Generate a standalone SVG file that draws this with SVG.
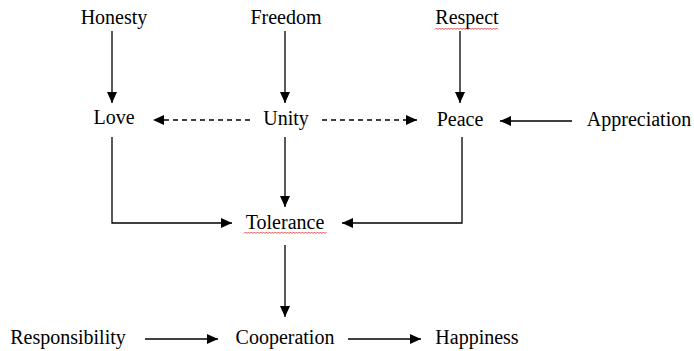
<svg xmlns="http://www.w3.org/2000/svg" width="694" height="351" viewBox="0 0 694 351">
<defs>
<marker id="ah" markerUnits="userSpaceOnUse" markerWidth="12" markerHeight="10" refX="11" refY="5" orient="auto">
<path d="M0,0 L11,5 L0,10 Z" fill="#000"/>
</marker>
</defs>
<style>
text{font-family:'Liberation Serif','Times New Roman',serif;font-size:20px;fill:#000;text-anchor:middle}
.c{fill:none;stroke:#000;stroke-width:1.3}
.d{stroke-dasharray:5,4}
.sq{fill:none;stroke:#e02020;stroke-width:0.8}
</style>
<rect width="694" height="351" fill="#fff"/>
<g id="connectors">
<path class="c" d="M112,31 V103" marker-end="url(#ah)"/>
<path class="c" d="M285,31 V103" marker-end="url(#ah)"/>
<path class="c" d="M460,31 V103" marker-end="url(#ah)"/>
<path class="c d" d="M250,120 H153" marker-end="url(#ah)"/>
<path class="c d" d="M322,120 H417" marker-end="url(#ah)"/>
<path class="c" d="M572,121 H500" marker-end="url(#ah)"/>
<path class="c" d="M112,137 V223 H232" marker-end="url(#ah)"/>
<path class="c" d="M285,137 V207" marker-end="url(#ah)"/>
<path class="c" d="M462,137 V223 H342" marker-end="url(#ah)"/>
<path class="c" d="M285,245 V317" marker-end="url(#ah)"/>
<path class="c" d="M145,339 H218" marker-end="url(#ah)"/>
<path class="c" d="M348,339 H421" marker-end="url(#ah)"/>
</g>
<g font-family="Liberation Serif, Times New Roman, serif">
<g id="honesty"><text x="114" y="24">Honesty</text></g>
<g id="freedom"><text x="286" y="24">Freedom</text></g>
<g id="respect"><text x="467" y="24">Respect</text>
<path class="sq" d="M435,29.5 l1.5,-1.5 l1.5,1.5 l1.5,-1.5 l1.5,1.5 l1.5,-1.5 l1.5,1.5 l1.5,-1.5 l1.5,1.5 l1.5,-1.5 l1.5,1.5 l1.5,-1.5 l1.5,1.5 l1.5,-1.5 l1.5,1.5 l1.5,-1.5 l1.5,1.5 l1.5,-1.5 l1.5,1.5 l1.5,-1.5 l1.5,1.5 l1.5,-1.5 l1.5,1.5 l1.5,-1.5 l1.5,1.5 l1.5,-1.5 l1.5,1.5 l1.5,-1.5 l1.5,1.5 l1.5,-1.5 l1.5,1.5 l1.5,-1.5 l1.5,1.5 l1.5,-1.5 l1.5,1.5 l1.5,-1.5 l1.5,1.5 l1.5,-1.5 l1.5,1.5 l1.5,-1.5 l1.5,1.5 l1.5,-1.5 l1.5,1.5"/></g>
<g id="love"><text x="114" y="124">Love</text></g>
<g id="unity"><text x="286" y="125">Unity</text></g>
<g id="peace"><text x="460" y="126">Peace</text></g>
<g id="appreciation"><text x="639" y="126">Appreciation</text></g>
<g id="tolerance"><text x="285" y="229">Tolerance</text>
<path class="sq" d="M244,233.5 l1.5,-1.5 l1.5,1.5 l1.5,-1.5 l1.5,1.5 l1.5,-1.5 l1.5,1.5 l1.5,-1.5 l1.5,1.5 l1.5,-1.5 l1.5,1.5 l1.5,-1.5 l1.5,1.5 l1.5,-1.5 l1.5,1.5 l1.5,-1.5 l1.5,1.5 l1.5,-1.5 l1.5,1.5 l1.5,-1.5 l1.5,1.5 l1.5,-1.5 l1.5,1.5 l1.5,-1.5 l1.5,1.5 l1.5,-1.5 l1.5,1.5 l1.5,-1.5 l1.5,1.5 l1.5,-1.5 l1.5,1.5 l1.5,-1.5 l1.5,1.5 l1.5,-1.5 l1.5,1.5 l1.5,-1.5 l1.5,1.5 l1.5,-1.5 l1.5,1.5 l1.5,-1.5 l1.5,1.5 l1.5,-1.5 l1.5,1.5 l1.5,-1.5 l1.5,1.5 l1.5,-1.5 l1.5,1.5 l1.5,-1.5 l1.5,1.5 l1.5,-1.5 l1.5,1.5 l1.5,-1.5 l1.5,1.5 l1.5,-1.5 l1.5,1.5 l1.5,-1.5"/></g>
<g id="responsibility"><text x="68" y="344">Responsibility</text></g>
<g id="cooperation"><text x="285" y="344">Cooperation</text></g>
<g id="happiness"><text x="477" y="344">Happiness</text></g>
</g>
</svg>
